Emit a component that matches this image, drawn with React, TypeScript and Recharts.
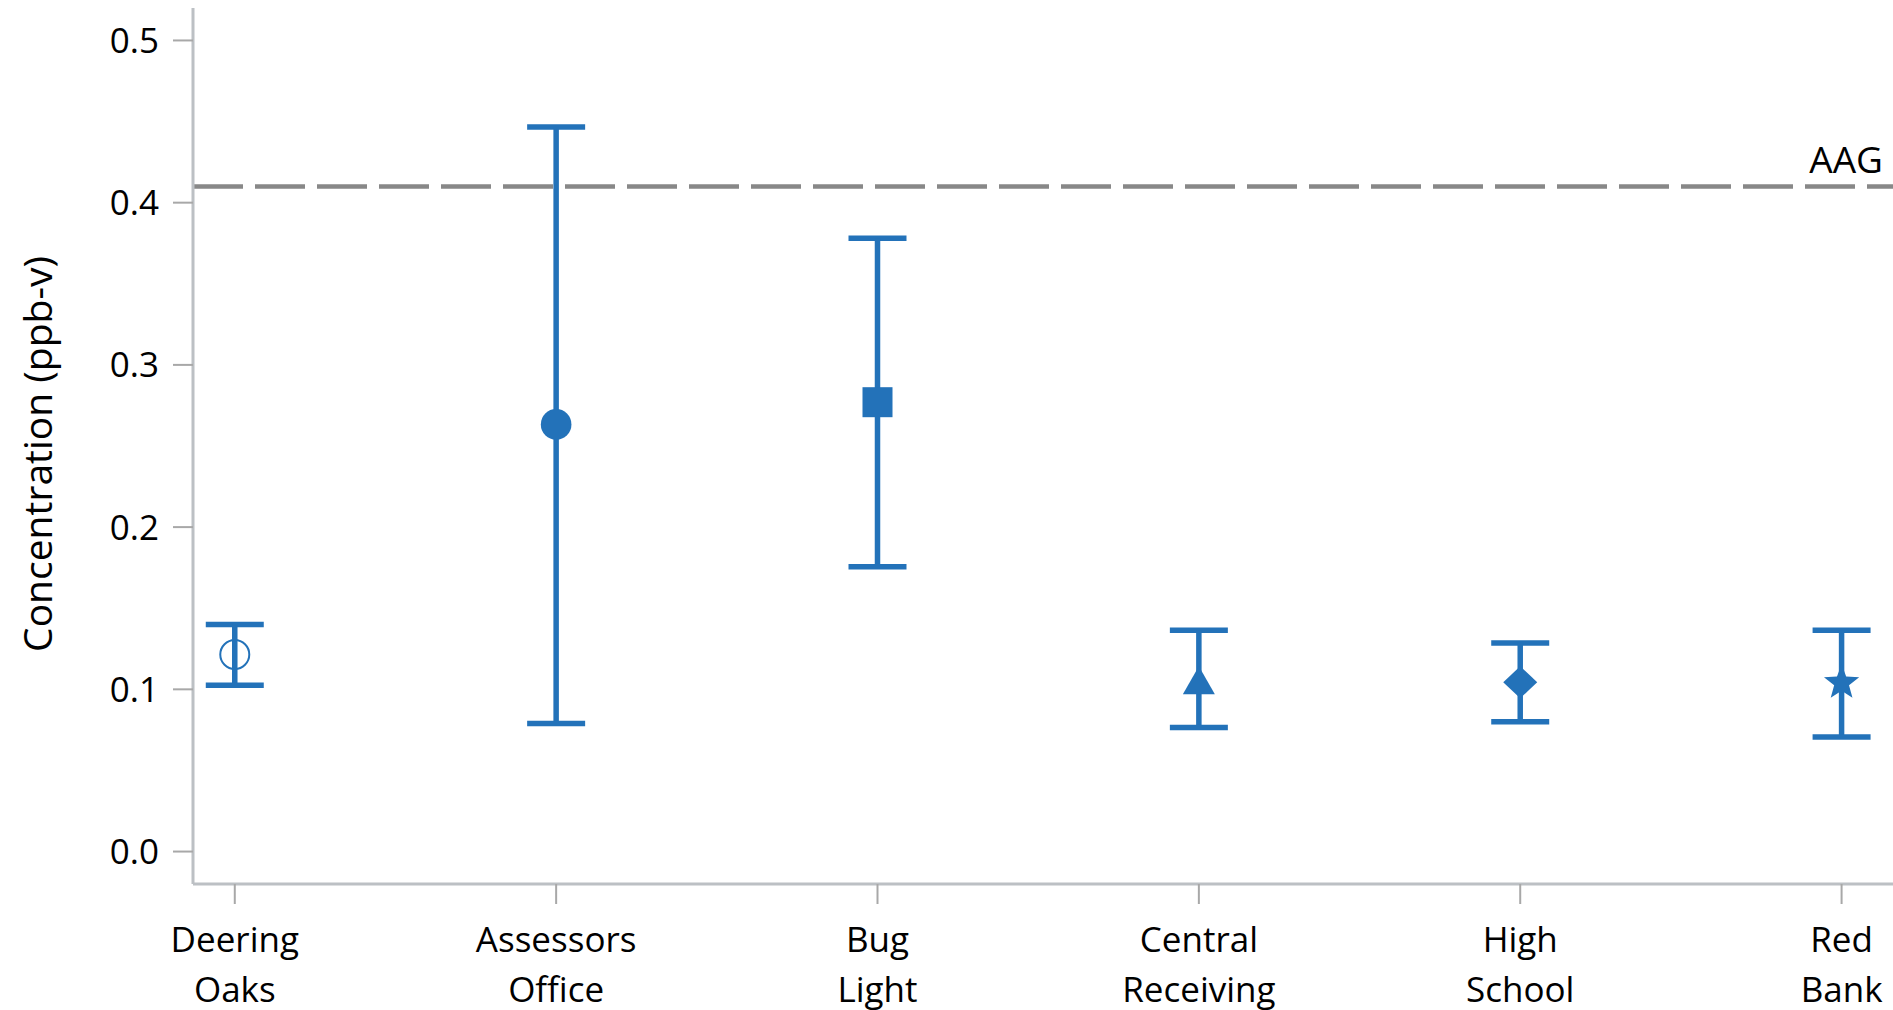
import { ComposedChart, Scatter, ErrorBar, XAxis, YAxis, ReferenceLine } from "recharts";

// sites along the x axis, left to right
const SITES = ["Deering Oaks", "Assessors Office", "Bug Light", "Central Receiving", "High School", "Red Bank"];
// mean concentration (ppb-v) and the low / high ends of each bar
const MEAN = [0.1215, 0.2633, 0.277, 0.105, 0.1044, 0.104];
const LOWER = [0.1025, 0.079, 0.1755, 0.0765, 0.08, 0.0706];
const UPPER = [0.14, 0.4467, 0.378, 0.1364, 0.1286, 0.1364];
const MARKERS = ["openCircle", "circle", "square", "triangle", "diamond", "star"];
const Y_TICKS = [0, 0.1, 0.2, 0.3, 0.4, 0.5];
const X_TICKS = SITES.map((_, i) => i);
const AAG = 0.41;

const BLUE = "#2372b9";
const FONT = "'Open Sans', sans-serif";

const data = SITES.map((site, i) => ({
  x: i,
  site,
  mean: MEAN[i],
  err: [MEAN[i] - LOWER[i], UPPER[i] - MEAN[i]],
  marker: MARKERS[i],
}));

function Marker(props: any) {
  const { cx, cy, payload } = props;
  if (cx == null || cy == null) return null;
  switch (payload.marker) {
    case "openCircle":
      return <circle cx={cx} cy={cy} r={14.5} fill="none" stroke={BLUE} strokeWidth={2} />;
    case "circle":
      return <circle cx={cx} cy={cy} r={15.3} fill={BLUE} />;
    case "square":
      return <rect x={cx - 15} y={cy - 15} width={30} height={30} fill={BLUE} />;
    case "triangle":
      return <polygon points={`${cx},${cy - 15} ${cx + 16},${cy + 13} ${cx - 16},${cy + 13}`} fill={BLUE} />;
    case "diamond":
      return <polygon points={`${cx},${cy - 16} ${cx + 17},${cy} ${cx},${cy + 16} ${cx - 17},${cy}`} fill={BLUE} />;
    case "star": {
      const pts: string[] = [];
      for (let k = 0; k < 10; k++) {
        const r = k % 2 === 0 ? 18.5 : 7.8;
        const a = (Math.PI / 5) * k - Math.PI / 2;
        pts.push(`${cx + r * Math.cos(a)},${cy + r * Math.sin(a)}`);
      }
      return <polygon points={pts.join(" ")} fill={BLUE} />;
    }
    default:
      return null;
  }
}

function SiteTick(props: any) {
  const { x, y, payload } = props;
  const lines = (SITES[payload.value] ?? "").split(" ");
  return (
    <g transform={`translate(${x},${y})`}>
      {lines.map((line, i) => (
        <text key={i} x={0} y={46 + i * 50} textAnchor="middle" fontSize={35} fontFamily={FONT} fill="#000">
          {line}
        </text>
      ))}
    </g>
  );
}

function YTitle(props: any) {
  const { viewBox } = props;
  const x = viewBox.x + 36;
  const y = viewBox.y + viewBox.height / 2 + 8;
  return (
    <text
      transform={`translate(${x},${y}) rotate(-90)`}
      textAnchor="middle"
      dominantBaseline="central"
      fontSize={39}
      fontFamily={FONT}
      fill="#000"
    >
      Concentration (ppb-v)
    </text>
  );
}

function AagLabel(props: any) {
  const { viewBox } = props;
  return (
    <text x={viewBox.x + viewBox.width - 10} y={viewBox.y - 13} textAnchor="end" fontSize={37} fontFamily={FONT} fill="#000">
      AAG
    </text>
  );
}

export default function App() {
  return (
    <div style={{ position: "absolute", left: 0, top: 0, background: "#fff", fontFamily: FONT }}>
      <ComposedChart width={1893} height={1010} data={data} margin={{ top: 8, right: 0, left: 0, bottom: 0 }}>
        <XAxis
          type="number"
          dataKey="x"
          domain={[-0.13, 5.16]}
          ticks={X_TICKS}
          interval={0}
          allowDataOverflow
          height={126}
          tickSize={20}
          tick={<SiteTick />}
          axisLine={{ stroke: "#bcc0c4", strokeWidth: 3 }}
          tickLine={{ stroke: "#a8a8a8", strokeWidth: 2 }}
        />
        <YAxis
          type="number"
          domain={[-0.02, 0.52]}
          ticks={Y_TICKS}
          allowDataOverflow
          width={193}
          tickSize={20}
          tickMargin={14}
          tickFormatter={(v: number) => v.toFixed(1)}
          tick={{ fontSize: 35, fill: "#000", fontFamily: FONT }}
          axisLine={{ stroke: "#bcc0c4", strokeWidth: 3 }}
          tickLine={{ stroke: "#a8a8a8", strokeWidth: 2 }}
          label={<YTitle />}
        />
        <ReferenceLine y={AAG} stroke="#888888" strokeWidth={4.5} strokeDasharray="50 12" label={<AagLabel />} />
        <Scatter dataKey="mean" shape={<Marker />} isAnimationActive={false}>
          <ErrorBar dataKey="err" direction="y" width={29} stroke={BLUE} strokeWidth={5.5} />
        </Scatter>
      </ComposedChart>
    </div>
  );
}
